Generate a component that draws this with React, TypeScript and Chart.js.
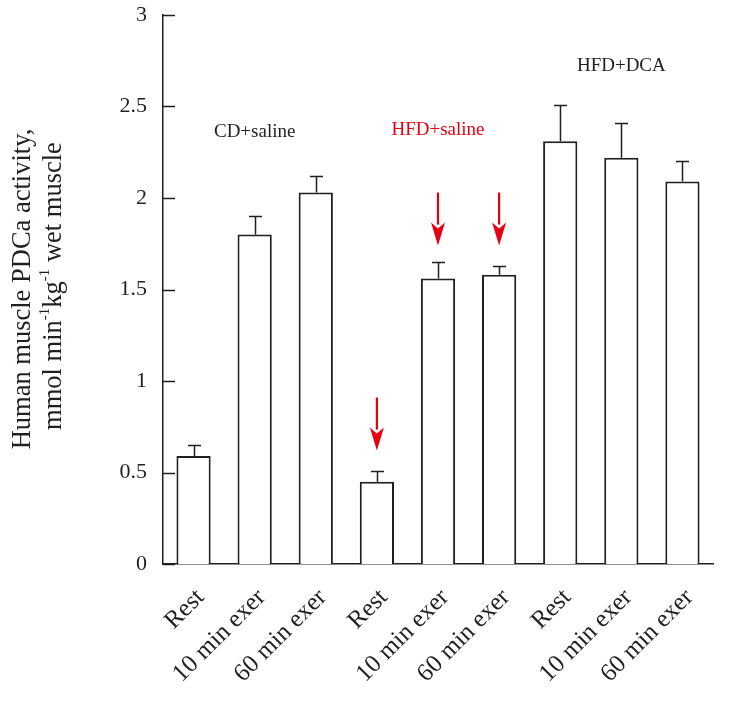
import React, { useEffect, useRef } from "react";
import { Chart, registerables } from "chart.js";

Chart.register(...registerables);

// ---------- data ----------
const categories = [
  "Rest", "10 min exer", "60 min exer",
  "Rest", "10 min exer", "60 min exer",
  "Rest", "10 min exer", "60 min exer",
];
const pdcaMean = [0.59, 1.8, 2.03, 0.45, 1.56, 1.58, 2.31, 2.22, 2.09];
const pdcaUpper = [0.65, 1.9, 2.12, 0.51, 1.65, 1.63, 2.51, 2.41, 2.2];
const yTickLabels = ["0", "0.5", "1", "1.5", "2", "2.5", "3"];
const groupLabels = ["CD+saline", "HFD+saline", "HFD+DCA"];
const groupLabelIndex = [1, 4, 7];
const groupLabelValue = [2.36, 2.37, 2.72];
const arrowIndex = [3, 4, 5];
const arrowFrom = [0.91, 2.03, 2.03];
const arrowTo = [0.62, 1.74, 1.74];
const yTitleLine1 = "Human muscle PDCa activity,";
const yTitleLine2 = [
  { t: "mmol min", sup: false },
  { t: "-1", sup: true },
  { t: "kg", sup: false },
  { t: "-1", sup: true },
  { t: " wet muscle", sup: false },
];

const INK = "#231f20";
const RED = "#e60012";
const SERIF = '"Liberation Serif", "Times New Roman", serif';
const groupLabelColors = [INK, RED, INK];

const overlayPlugin = {
  id: "overlay",
  afterDatasetsDraw(chart: any) {
    const ctx = chart.ctx as CanvasRenderingContext2D;
    const x = chart.scales.x;
    const y = chart.scales.y;
    const area = chart.chartArea;
    ctx.save();

    // inner y ticks
    ctx.strokeStyle = INK;
    ctx.lineWidth = 1.5;
    y.ticks.forEach((t: any) => {
      const py = Math.round(y.getPixelForValue(t.value)) + 0.5;
      ctx.beginPath();
      ctx.moveTo(area.left, py);
      ctx.lineTo(area.left + 12, py);
      ctx.stroke();
    });

    // error bars (upper only)
    ctx.lineWidth = 1.5;
    pdcaMean.forEach((m, i) => {
      const px = Math.round(x.getPixelForValue(i)) + 0.5;
      const py0 = y.getPixelForValue(m);
      const py1 = Math.round(y.getPixelForValue(pdcaUpper[i])) + 0.5;
      ctx.beginPath();
      ctx.moveTo(px, py0);
      ctx.lineTo(px, py1);
      ctx.moveTo(px - 6.5, py1);
      ctx.lineTo(px + 6.5, py1);
      ctx.stroke();
    });

    // arrows
    ctx.strokeStyle = RED;
    ctx.fillStyle = RED;
    arrowIndex.forEach((ci, k) => {
      const px = x.getPixelForValue(ci);
      const pTop = y.getPixelForValue(arrowFrom[k]);
      const pTip = y.getPixelForValue(arrowTo[k]);
      const headLen = 23;
      ctx.lineWidth = 2.2;
      ctx.beginPath();
      ctx.moveTo(px, pTop);
      ctx.lineTo(px, pTip - headLen + 2);
      ctx.stroke();
      ctx.beginPath();
      ctx.moveTo(px - 7, pTip - headLen);
      ctx.lineTo(px, pTip - headLen + 6);
      ctx.lineTo(px + 7, pTip - headLen);
      ctx.lineTo(px, pTip);
      ctx.closePath();
      ctx.fill();
    });

    // group labels
    ctx.font = `19px ${SERIF}`;
    ctx.textAlign = "center";
    ctx.textBaseline = "middle";
    groupLabels.forEach((g, k) => {
      ctx.fillStyle = groupLabelColors[k];
      ctx.fillText(g, x.getPixelForValue(groupLabelIndex[k]), y.getPixelForValue(groupLabelValue[k]));
    });

    // y axis title (two lines, second with superscripts)
    const cy = 289;
    ctx.fillStyle = INK;
    ctx.save();
    ctx.translate(23, cy);
    ctx.rotate(-Math.PI / 2);
    ctx.font = `26.5px ${SERIF}`;
    ctx.textAlign = "center";
    ctx.textBaseline = "middle";
    ctx.fillText(yTitleLine1, 0, 0);
    ctx.restore();

    ctx.save();
    ctx.translate(54, cy - 3);
    ctx.rotate(-Math.PI / 2);
    ctx.textAlign = "left";
    ctx.textBaseline = "middle";
    const normalFont = `26.5px ${SERIF}`;
    const supFont = `15px ${SERIF}`;
    let total = 0;
    yTitleLine2.forEach((s) => {
      ctx.font = s.sup ? supFont : normalFont;
      total += ctx.measureText(s.t).width;
    });
    let cx = -total / 2;
    yTitleLine2.forEach((s) => {
      ctx.font = s.sup ? supFont : normalFont;
      ctx.fillText(s.t, cx, s.sup ? -9 : 0);
      cx += ctx.measureText(s.t).width;
    });
    ctx.restore();

    ctx.restore();
  },
};

export default function App() {
  const ref = useRef<HTMLCanvasElement | null>(null);

  useEffect(() => {
    if (!ref.current) return;
    const chart = new Chart(ref.current, {
      type: "bar",
      data: {
        labels: categories,
        datasets: [
          {
            data: pdcaMean,
            backgroundColor: "#ffffff",
            borderColor: INK,
            borderWidth: 2,
            categoryPercentage: 1,
            barPercentage: 0.56,
          },
        ],
      },
      options: {
        animation: false,
        responsive: true,
        maintainAspectRatio: false,
        layout: { padding: { top: 15, right: 21, bottom: 0, left: 0 } },
        plugins: {
          legend: { display: false },
          tooltip: { enabled: false },
          title: { display: false },
        },
        scales: {
          x: {
            grid: { display: false, drawTicks: false },
            border: { display: true, color: INK, width: 1.5 },
            ticks: {
              color: INK,
              font: { family: SERIF, size: 25 },
              minRotation: 45,
              maxRotation: 45,
              padding: 19,
              labelOffset: 7,
              autoSkip: false,
            },
            afterFit: (scale: any) => {
              scale.height = 141;
              scale.paddingLeft = 0;
              scale.paddingRight = 0;
            },
          },
          y: {
            min: 0,
            max: 3,
            grid: { display: false, drawTicks: false },
            border: { display: true, color: INK, width: 1.5 },
            ticks: {
              stepSize: 0.5,
              color: INK,
              font: { family: SERIF, size: 22 },
              padding: 16,
              callback: (_v: any, i: number) => yTickLabels[i],
            },
            afterFit: (scale: any) => {
              scale.width = 163;
              scale.paddingTop = 0;
              scale.paddingBottom = 0;
            },
          },
        },
      },
      plugins: [overlayPlugin],
    });
    return () => chart.destroy();
  }, []);

  return (
    <div style={{ position: "absolute", left: 0, top: 0, width: 734, height: 705, background: "#fff" }}>
      <canvas ref={ref} />
    </div>
  );
}
